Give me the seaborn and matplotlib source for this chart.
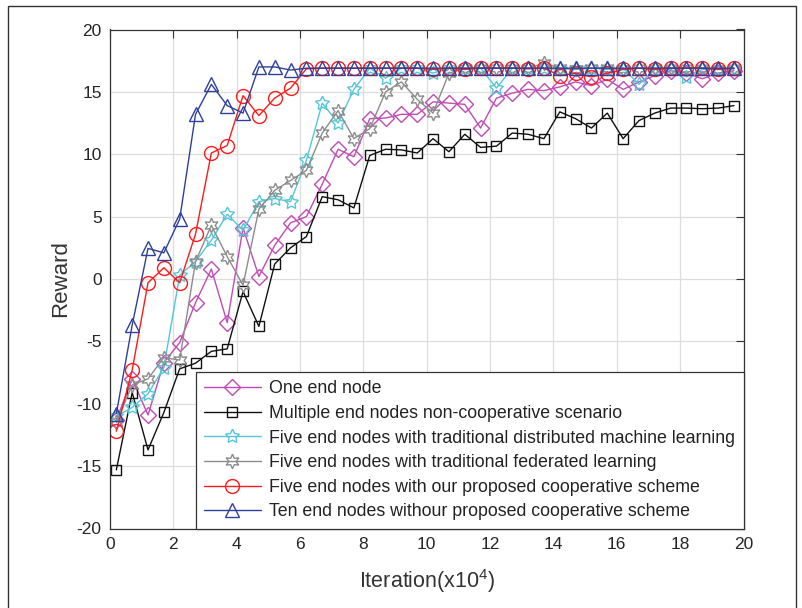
import numpy as np
import pandas as pd
import matplotlib
matplotlib.use("Agg")
import matplotlib.pyplot as plt
import matplotlib.patches as mpatches
import seaborn as sns

# iteration (x10^4)
iters = [0.2, 0.7, 1.2, 1.7, 2.2, 2.7, 3.2, 3.7, 4.2, 4.7,
         5.2, 5.7, 6.2, 6.7, 7.2, 7.7, 8.2, 8.7, 9.2, 9.7,
         10.2, 10.7, 11.2, 11.7, 12.2, 12.7, 13.2, 13.7, 14.2, 14.7,
         15.2, 15.7, 16.2, 16.7, 17.2, 17.7, 18.2, 18.7, 19.2, 19.7]

one_node = [-11.3, -8.0, -10.9, -6.7, -5.1, -1.9, 0.8, -3.5, 4.1, 0.2,
            2.7, 4.5, 5.0, 7.6, 10.4, 9.8, 12.85, 12.9, 13.2, 13.2,
            14.2, 14.1, 14.0, 12.1, 14.5, 14.9, 15.2, 15.1, 15.4, 15.8,
            15.5, 16.0, 15.2, 15.8, 16.3, 16.7, 16.5, 16.05, 16.5, 16.7]

non_coop = [-15.3, -9.1, -13.7, -10.7, -7.2, -6.75, -5.8, -5.6, -1.0, -3.8,
            1.2, 2.5, 3.4, 6.6, 6.35, 5.7, 9.9, 10.4, 10.35, 10.1,
            11.25, 10.2, 11.6, 10.55, 10.65, 11.7, 11.6, 11.25, 13.4, 12.85,
            12.1, 13.3, 11.25, 12.7, 13.3, 13.7, 13.7, 13.65, 13.7, 13.9]

distributed_ml = [-11.0, -10.3, -9.2, -7.1, 0.3, 1.4, 3.1, 5.2, 3.9, 6.2,
                  6.45, 6.2, 9.5, 14.1, 12.5, 15.2, 16.9, 16.1, 16.9, 16.9,
                  16.5, 16.9, 16.9, 16.9, 15.3, 16.9, 16.9, 16.9, 16.8, 16.9,
                  16.9, 16.8, 16.9, 15.6, 16.8, 16.8, 16.2, 16.8, 16.8, 16.8]

federated = [-11.5, -8.5, -8.0, -6.3, -6.5, 1.4, 4.3, 1.8, -0.5, 5.6,
             7.1, 7.9, 8.7, 11.7, 13.5, 11.25, 12.05, 15.0, 15.8, 14.4,
             13.3, 16.5, 16.9, 16.9, 16.9, 16.9, 16.9, 17.3, 16.9, 16.8,
             16.9, 16.9, 16.8, 16.9, 16.9, 16.9, 16.9, 16.9, 16.8, 16.9]

proposed_five = [-12.2, -7.3, -0.3, 0.9, -0.3, 3.6, 10.1, 10.7, 14.7, 13.1,
                 14.5, 15.3, 16.85, 16.9, 16.9, 16.9, 16.9, 16.9, 16.9, 16.9,
                 16.8, 16.9, 16.8, 16.9, 16.9, 16.9, 16.85, 16.9, 16.3, 16.5,
                 16.2, 16.5, 16.8, 16.9, 16.8, 16.9, 16.9, 16.9, 16.8, 16.9]

proposed_ten = [-10.8, -3.7, 2.45, 2.1, 4.8, 13.2, 15.6, 13.9, 13.3, 17.0,
                17.0, 16.75, 16.9, 16.9, 16.9, 16.9, 16.9, 16.9, 16.9, 16.9,
                16.9, 16.9, 16.9, 16.9, 16.9, 16.9, 16.9, 16.9, 16.9, 16.9,
                16.9, 16.9, 16.9, 16.9, 16.9, 16.9, 16.9, 16.9, 16.9, 16.9]

labels = [
    "One end node",
    "Multiple end nodes non-cooperative scenario",
    "Five end nodes with traditional distributed machine learning",
    "Five end nodes with traditional federated learning",
    "Five end nodes with our proposed cooperative scheme",
    "Ten end nodes withour proposed cooperative scheme",
]
series = [one_node, non_coop, distributed_ml, federated, proposed_five, proposed_ten]
colors = ["#BF4BB5", "#111111", "#55C6D6", "#8C8C8C", "#FF1A1A", "#2E3F9C"]
markers = ["D", "s", (5, 1, 0), (6, 1, 0), "o", "^"]
msizes = [8, 7.5, 10.5, 10.5, 10, 10.5]

sns.set_style("whitegrid")
plt.rcParams["font.family"] = ["Liberation Sans", "DejaVu Sans"]
plt.rcParams["mathtext.fontset"] = "custom"
plt.rcParams["mathtext.rm"] = "Liberation Sans"
plt.rcParams["mathtext.default"] = "regular"
plt.rcParams["axes.unicode_minus"] = False

fig = plt.figure(figsize=(8.02, 6.08), dpi=100, facecolor="white")
ax = fig.add_axes([110 / 802, 1 - 528.5 / 608, 633.5 / 802, 499 / 608])

for lbl, vals, c, m, ms in zip(labels, series, colors, markers, msizes):
    d = pd.DataFrame({"iter": iters, "reward": vals})
    sns.lineplot(data=d, x="iter", y="reward", ax=ax, color=c, marker=m,
                 markersize=ms, markerfacecolor="none", markeredgecolor=c,
                 markeredgewidth=1.0, linewidth=1.0, label=lbl)

ax.set_xlim(0, 20)
ax.set_ylim(-20, 20)
ax.set_xticks(range(0, 21, 2))
ax.set_yticks(range(-20, 21, 5))
ax.tick_params(direction="in", top=True, right=True, length=6, width=0.8,
               labelsize=12.5, labelcolor="#262626", color="#333333", pad=6)
ax.grid(True, color="#DDDDDD", linewidth=0.9)
for spine in ax.spines.values():
    spine.set_edgecolor("#333333")
    spine.set_linewidth(0.9)
ax.set_xlabel("Iteration(x$10^4$)", fontsize=15.5, color="#333333", labelpad=11)
ax.set_ylabel("Reward", fontsize=16, color="#333333", labelpad=4)

leg = ax.legend(loc="lower right", borderaxespad=0, fancybox=False,
                framealpha=1, edgecolor="#333333", fontsize=12.8,
                handlelength=3.2, labelspacing=0.43, borderpad=0.45,
                handletextpad=0.5)
leg.get_frame().set_linewidth(0.9)
for t in leg.get_texts():
    t.set_color("#222222")

# thin border around the whole figure
fig.add_artist(mpatches.Rectangle((8 / 802, -0.02), 788 / 802, 1 - 6 / 608 + 0.02,
                                  transform=fig.transFigure, fill=False,
                                  edgecolor="#333333", linewidth=1.0))

fig.savefig("out.png", dpi=100, facecolor="white")
